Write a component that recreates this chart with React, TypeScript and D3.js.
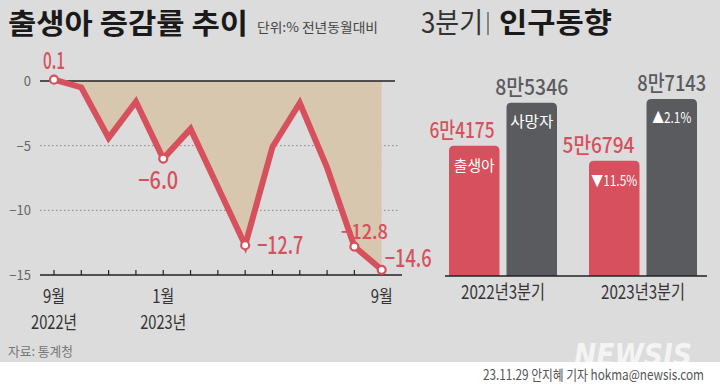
import * as d3 from "d3";

// Birth rate change by month, % vs same month of previous year
const MONTHS = ["2022-09", "2022-10", "2022-11", "2022-12", "2023-01", "2023-02", "2023-03", "2023-04", "2023-05", "2023-06", "2023-07", "2023-08", "2023-09"];
const BIRTH_RATE = [0.1, -0.5, -4.4, -1.6, -6.0, -3.7, -8.2, -12.7, -5.1, -1.7, -6.7, -12.8, -14.6];
const LABELED = [0, 4, 7, 11, 12];
const Y_TICKS = [0, -5, -10, -15];
const X_LABELS = [
  { i: 0, month: "9월", year: "2022년" },
  { i: 4, month: "1월", year: "2023년" },
  { i: 12, month: "9월", year: "" },
];

// Q3 population trends
const QUARTERS = ["2022년3분기", "2023년3분기"];
const BIRTHS = [64175, 56794];
const DEATHS = [85346, 87143];
const BIRTH_LABELS = ["6만4175", "5만6794"];
const DEATH_LABELS = ["8만5346", "8만7143"];
const BIRTH_INNER = ["출생아", "▼11.5%"];
const DEATH_INNER = ["사망자", "▲2.1%"];

const W = 720;
const H = 387;
const FONT = "'Noto Sans CJK KR', 'Noto Sans', sans-serif";
const RED = "#d6505d";
const DARK = "#5a5b5e";
const BG = "#dcdcdc";
const FILL = "#d7c7af";

type TProps = {
  x: number;
  y: number;
  w?: number;
  size: number;
  fill: string;
  anchor?: "start" | "middle" | "end";
  weight?: number;
  children: string;
};

// text squeezed to a given width, the original uses a condensed face
const T = ({ x, y, w, size, fill, anchor = "start", weight = 400, children }: TProps) => (
  <text
    x={x}
    y={y}
    fontSize={size}
    fill={fill}
    textAnchor={anchor}
    fontWeight={weight}
    fontFamily={FONT}
    textLength={w}
    lengthAdjust={w ? "spacingAndGlyphs" : undefined}
  >
    {children}
  </text>
);

function roundedTop(x: number, y: number, w: number, h: number, r: number) {
  return `M${x},${y + h}V${y + r}Q${x},${y} ${x + r},${y}H${x + w - r}Q${x + w},${y} ${x + w},${y + r}V${y + h}Z`;
}

const fmt = (v: number) => (v < 0 ? "−" + Math.abs(v).toFixed(1) : v.toFixed(1));

export default function App() {
  // left line chart
  const x = d3.scaleLinear().domain([0, MONTHS.length - 1]).range([54, 381.7]);
  const y = d3.scaleLinear().domain([0, -15]).range([81, 275]);

  const line = d3
    .line<number>()
    .x((_, i) => x(i))
    .y((d) => y(d));
  const area = d3
    .area<number>()
    .x((_, i) => x(i))
    .y0(y(0))
    .y1((d) => y(Math.min(d, 0)));

  // right bar chart
  const x0 = d3.scaleBand().domain(QUARTERS).range([449, 697]).paddingInner(0.2286);
  const x1 = d3.scaleBand().domain(["births", "deaths"]).range([0, x0.bandwidth()]).paddingInner(0.1217);
  const yb = d3.scaleLinear().domain([0, 87143]).range([276, 99]);

  const labelPos = [
    { dx: 0, dy: -11, anchor: "middle", size: 24, w: 22 },
    { dx: -5, dy: 30, anchor: "middle", size: 24, w: 40 },
    { dx: 12, dy: 9, anchor: "start", size: 24, w: 46 },
    { dx: 10, dy: -8, anchor: "middle", size: 20, w: 47 },
    { dx: 3, dy: -3, anchor: "start", size: 24, w: 47 },
  ] as const;

  return (
    <svg width={W} height={H} style={{ position: "absolute", left: 0, top: 0 }}>
      <rect width={W} height={362} fill={BG} />
      <rect y={362} width={W} height={H - 362} fill="#fff" />

      {/* titles */}
      <T x={8} y={34} size={28} weight={700} fill="#1a1a1a" w={240}>출생아 증감률 추이</T>
      <T x={257} y={32} size={13} fill="#444" w={121}>단위:% 전년동월대비</T>
      <T x={421} y={33} size={28} fill="#333" w={62}>3분기</T>
      <line x1={488} x2={488} y1={12} y2={35} stroke="#333" strokeWidth={1} />
      <T x={499} y={33} size={28} weight={700} fill="#1a1a1a" w={113}>인구동향</T>

      {/* grid and y labels */}
      {Y_TICKS.map((t) => (
        <g key={t}>
          {t === -5 || t === -10 ? (
            <line x1={40} x2={400} y1={y(t)} y2={y(t)} stroke="#888" strokeDasharray="1.5,2.5" />
          ) : null}
          <T x={31} y={y(t) + 5} size={13} fill="#666" anchor="end">
            {t === 0 ? "0" : "−" + Math.abs(t)}
          </T>
        </g>
      ))}

      <path d={area(BIRTH_RATE) || undefined} fill={FILL} />
      <line x1={40} x2={395} y1={y(0)} y2={y(0)} stroke="#222" strokeWidth={1.3} />
      <line x1={40} x2={402} y1={y(-15)} y2={y(-15)} stroke="#222" strokeWidth={1.5} />
      {MONTHS.map((m, i) => (
        <line key={m} x1={x(i)} x2={x(i)} y1={y(-15) - 5} y2={y(-15)} stroke="#222" strokeWidth={1.2} />
      ))}

      <path d={line(BIRTH_RATE) || undefined} fill="none" stroke={RED} strokeWidth={6} strokeLinejoin="miter" />
      {LABELED.map((i, k) => {
        const p = labelPos[k];
        return (
          <g key={i}>
            <circle cx={x(i)} cy={y(BIRTH_RATE[i])} r={4} fill="#fff" stroke={RED} strokeWidth={2.2} />
            <T x={x(i) + p.dx} y={y(BIRTH_RATE[i]) + p.dy} size={p.size} weight={500} fill={RED} anchor={p.anchor} w={p.w}>
              {fmt(BIRTH_RATE[i])}
            </T>
          </g>
        );
      })}

      {X_LABELS.map((l) => (
        <g key={l.i}>
          <T x={x(l.i)} y={303} size={18} fill="#333" anchor="middle" w={22}>{l.month}</T>
          {l.year ? (
            <T x={x(l.i)} y={329} size={18} fill="#333" anchor="middle" w={46}>{l.year}</T>
          ) : null}
        </g>
      ))}

      <T x={8} y={356} size={13} fill="#777" w={65}>자료: 통계청</T>

      {/* bars */}
      {QUARTERS.map((q, qi) => {
        const bx = x0(q) || 0;
        const bw = x1.bandwidth();
        const xb = bx + (x1("births") || 0);
        const xd = bx + (x1("deaths") || 0);
        return (
          <g key={q}>
            <path d={roundedTop(xb, yb(BIRTHS[qi]), bw, yb(0) - yb(BIRTHS[qi]), 5)} fill={RED} />
            <path d={roundedTop(xd, yb(DEATHS[qi]), bw, yb(0) - yb(DEATHS[qi]), 5)} fill={DARK} />
            <T x={xb + bw - 5} y={yb(BIRTHS[qi]) - 8} size={22} weight={500} fill={RED} anchor="end" w={qi === 0 ? 65 : 72}>
              {BIRTH_LABELS[qi]}
            </T>
            <T x={xd + bw / 2} y={yb(DEATHS[qi]) - 8} size={22} weight={500} fill={DARK} anchor="middle" w={qi === 0 ? 73 : 69}>
              {DEATH_LABELS[qi]}
            </T>
            <T x={xb + bw / 2} y={yb(BIRTHS[qi]) + 25} size={15} fill="#fff" anchor="middle" w={qi === 0 ? 41 : 46}>
              {BIRTH_INNER[qi]}
            </T>
            <T x={xd + bw / 2} y={yb(DEATHS[qi]) + 24} size={15} fill="#fff" anchor="middle" w={qi === 0 ? 43 : 39}>
              {DEATH_INNER[qi]}
            </T>
            <T x={bx + x0.bandwidth() / 2} y={299} size={19} fill="#333" anchor="middle" w={84}>{q}</T>
          </g>
        );
      })}
      <line x1={445} x2={707} y1={yb(0)} y2={yb(0)} stroke="#222" strokeWidth={1.5} />

      {/* footer */}
      <text
        x={574}
        y={366}
        fontSize={32}
        fontWeight={900}
        fontStyle="italic"
        fontFamily="'DejaVu Sans', sans-serif"
        fill="#fff"
        opacity={0.7}
        textLength={118}
        lengthAdjust="spacingAndGlyphs"
      >
        NEWSIS
      </text>
      <T x={483} y={380} size={14} fill="#555" w={221}>23.11.29 안지혜 기자 hokma@newsis.com</T>
    </svg>
  );
}
